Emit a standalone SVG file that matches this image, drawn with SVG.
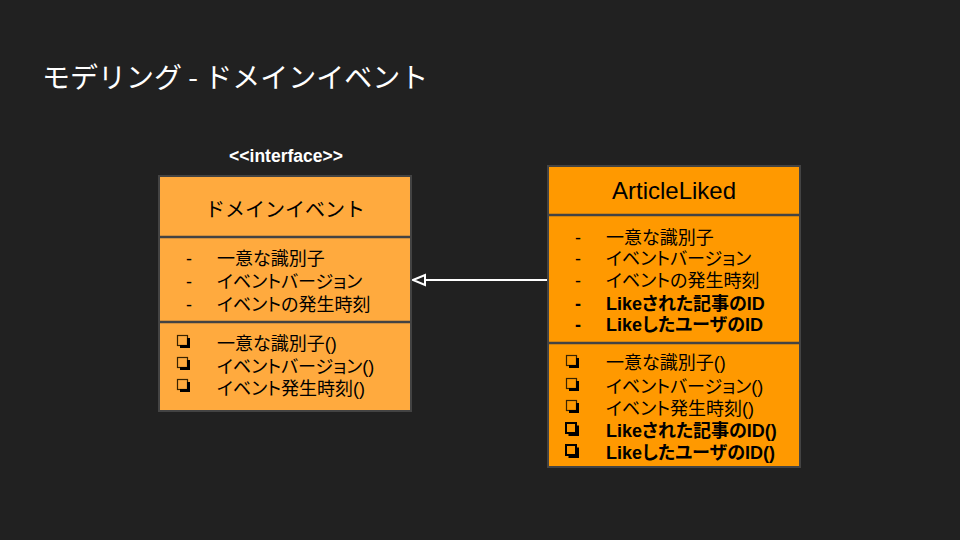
<svg xmlns="http://www.w3.org/2000/svg" width="960" height="540" viewBox="0 0 960 540">
<defs>
<style>
.t{font-family:"Liberation Sans","Noto Sans CJK JP",sans-serif;fill:#000;font-size:18px;font-feature-settings:"palt"}
.b{font-weight:bold}
.box1{fill:#FFAA3E;stroke:#434343;stroke-width:2}
.box2{fill:#FF9900;stroke:#434343;stroke-width:2}
.div{stroke:#434343;stroke-width:2.5}
</style>
<symbol id="cb" width="14" height="14" overflow="visible">
<rect x="0.5" y="0.5" width="10" height="10" fill="none" stroke="#3a2400" stroke-width="1.2"/>
<path d="M3,11.5 H11.5 V3" fill="none" stroke="#000" stroke-width="3"/>
</symbol>
<symbol id="cbb" width="15" height="15" overflow="visible">
<rect x="1" y="1" width="10" height="10" fill="none" stroke="#000" stroke-width="2"/>
<path d="M3.5,12.5 H12.5 V3.5" fill="none" stroke="#000" stroke-width="3"/>
</symbol>
</defs>
<rect width="960" height="540" fill="#212121"/>
<text x="42" y="88" style="font-family:'Noto Sans CJK JP',sans-serif;font-size:28px;fill:#ffffff">モデリング - ドメインイベント</text>
<text x="286" y="162" text-anchor="middle" style="font-family:'Liberation Sans','Noto Sans CJK JP',sans-serif;font-size:17.5px;font-weight:bold;fill:#ffffff">&lt;&lt;interface&gt;&gt;</text>
<g id="connectors">
<line x1="548" y1="280" x2="424" y2="280" stroke="#ffffff" stroke-width="2"/>
<polygon points="413,280 425,275 425,285" fill="#212121" stroke="#ffffff" stroke-width="2" stroke-linejoin="miter"/>
</g>
<g id="domain-event">
<rect class="box1" x="159" y="176" width="252" height="235"/>
<line class="div" x1="159" y1="237" x2="411" y2="237"/>
<line class="div" x1="159" y1="322" x2="411" y2="322"/>
<text class="t" x="285" y="217" text-anchor="middle" style="font-size:20px;font-feature-settings:normal">ドメインイベント</text>
<text class="t" x="186" y="265">-</text><text class="t" x="217" y="265">一意な識別子</text>
<text class="t" x="186" y="288">-</text><text class="t" x="217" y="288">イベントバージョン</text>
<text class="t" x="186" y="311">-</text><text class="t" x="217" y="311">イベントの発生時刻</text>
<use href="#cb" x="177" y="335"/><text class="t" x="217" y="350">一意な識別子()</text>
<use href="#cb" x="177" y="357"/><text class="t" x="217" y="373">イベントバージョン()</text>
<use href="#cb" x="177" y="379"/><text class="t" x="217" y="395">イベント発生時刻()</text>
</g>
<g id="article-liked">
<rect class="box2" x="548" y="166" width="252" height="301"/>
<line class="div" x1="548" y1="215" x2="800" y2="215"/>
<line class="div" x1="548" y1="343" x2="800" y2="343"/>
<text class="t" x="674" y="199" text-anchor="middle" style="font-size:24px">ArticleLiked</text>
<text class="t" x="575" y="244">-</text><text class="t" x="606" y="244">一意な識別子</text>
<text class="t" x="575" y="265">-</text><text class="t" x="606" y="265">イベントバージョン</text>
<text class="t" x="575" y="287">-</text><text class="t" x="606" y="287">イベントの発生時刻</text>
<text class="t b" x="575" y="310">-</text><text class="t b" x="606" y="310">Likeされた記事のID</text>
<text class="t b" x="575" y="331">-</text><text class="t b" x="606" y="331">LikeしたユーザのID</text>
<use href="#cb" x="566" y="355"/><text class="t" x="606" y="369">一意な識別子()</text>
<use href="#cb" x="566" y="378"/><text class="t" x="606" y="393">イベントバージョン()</text>
<use href="#cb" x="566" y="400"/><text class="t" x="606" y="415">イベント発生時刻()</text>
<use href="#cbb" x="565" y="422"/><text class="t b" x="606" y="437">Likeされた記事のID()</text>
<use href="#cbb" x="565" y="444"/><text class="t b" x="606" y="459">LikeしたユーザのID()</text>
</g>
</svg>
